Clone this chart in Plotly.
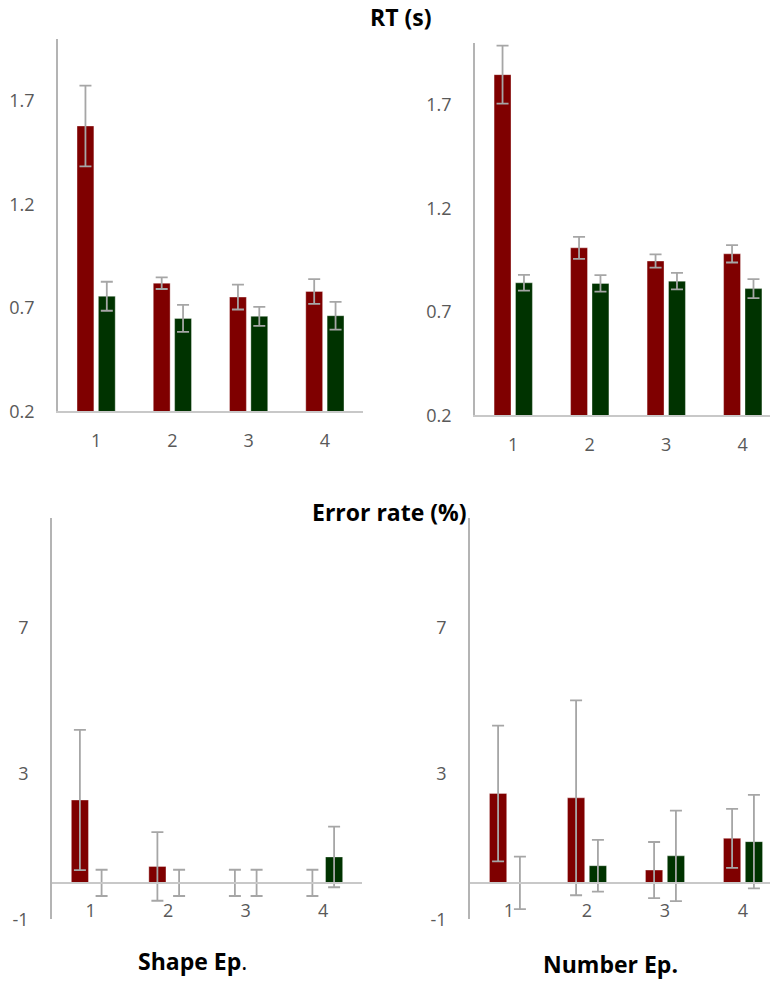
import plotly.graph_objects as go

# Blocks on the x axis
blocks = ["1", "2", "3", "4"]

# Reaction time (s), mean and error
shape_rt_a = [1.578, 0.819, 0.752, 0.779]
shape_rt_a_err = [0.195, 0.028, 0.060, 0.060]
shape_rt_b = [0.756, 0.649, 0.659, 0.662]
shape_rt_b_err = [0.070, 0.065, 0.046, 0.067]

number_rt_a = [1.845, 1.009, 0.945, 0.980]
number_rt_a_err = [0.140, 0.053, 0.032, 0.042]
number_rt_b = [0.840, 0.837, 0.848, 0.812]
number_rt_b_err = [0.038, 0.040, 0.040, 0.046]

# Error rate (%), mean and error
shape_er_a = [2.27, 0.45, 0.0, 0.0]
shape_er_a_err = [1.92, 0.94, 0.36, 0.36]
shape_er_b = [0.0, 0.0, 0.0, 0.71]
shape_er_b_err = [0.36, 0.36, 0.36, 0.83]

number_er_a = [2.45, 2.33, 0.35, 1.22]
number_er_a_err = [1.86, 2.67, 0.77, 0.81]
number_er_b = [0.0, 0.47, 0.74, 1.13]
number_er_b_err = [0.72, 0.71, 1.24, 1.28]

RT_TICKS = [0.2, 0.7, 1.2, 1.7]
ER_TICKS = [-1, 3, 7]

RED = "#7f0000"
GREEN = "#003300"
ERR = "#a6a6a6"
TICK_FONT = dict(family="Open Sans", size=18, color="#595959")
W, H = 770, 998


def bar(x_ax, y_ax, vals, errs, color, name):
    return go.Bar(
        x=blocks, y=vals, name=name, xaxis=x_ax, yaxis=y_ax,
        marker=dict(color=color, line=dict(color="rgba(255,255,255,0.35)", width=1)),
        error_y=dict(type="data", array=errs, visible=True,
                     color=ERR, thickness=1.8, width=6),
        showlegend=False,
    )


fig = go.Figure()
fig.add_trace(bar("x", "y", shape_rt_a, shape_rt_a_err, RED, "Group A"))
fig.add_trace(bar("x", "y", shape_rt_b, shape_rt_b_err, GREEN, "Group B"))
fig.add_trace(bar("x2", "y2", number_rt_a, number_rt_a_err, RED, "Group A"))
fig.add_trace(bar("x2", "y2", number_rt_b, number_rt_b_err, GREEN, "Group B"))
fig.add_trace(bar("x3", "y3", shape_er_a, shape_er_a_err, RED, "Group A"))
fig.add_trace(bar("x3", "y3", shape_er_b, shape_er_b_err, GREEN, "Group B"))
fig.add_trace(bar("x4", "y4", number_er_a, number_er_a_err, RED, "Group A"))
fig.add_trace(bar("x4", "y4", number_er_b, number_er_b_err, GREEN, "Group B"))


def px_x(a, b):
    return [a / W, min(b / W, 1.0)]


def px_y(top, bottom):
    return [1 - bottom / H, 1 - top / H]


def xaxis(dom, rng, anchor, **kw):
    return dict(domain=dom, range=rng, type="category", anchor=anchor,
                showline=True, linecolor="#c8c8c8", linewidth=2,
                showgrid=False, zeroline=False, ticks="",
                ticklabelstandoff=12, tickfont=TICK_FONT, fixedrange=True, **kw)


def yaxis(dom, rng, anchor, tickvals):
    return dict(domain=dom, range=rng, anchor=anchor,
                showline=True, linecolor="#b4b4b4", linewidth=1.5,
                showgrid=False, zeroline=False, ticks="",
                tickvals=tickvals, ticktext=[str(v) for v in tickvals],
                ticklabelstandoff=18, tickfont=TICK_FONT, fixedrange=True)


er_range = [-1, 10]
dom_er = px_y(523.7, 929.6)
# put the category axis of the error panels on the zero line
zero_pos = dom_er[0] + (0 - er_range[0]) / (er_range[1] - er_range[0]) * (dom_er[1] - dom_er[0])

fig.update_layout(
    width=W, height=H,
    margin=dict(l=0, r=0, t=0, b=0),
    paper_bgcolor="white", plot_bgcolor="white",
    barmode="group", bargap=0.44, bargroupgap=0.21,
    xaxis=xaxis(px_x(58, 363), [-0.5, 3.5], "y"),
    yaxis=yaxis(px_y(39, 416), [0.2, 2.0], "x", RT_TICKS),
    xaxis2=xaxis(px_x(475, 770), [-0.5, 3.356], "y2"),
    yaxis2=yaxis(px_y(43, 420), [0.2, 2.0], "x2", RT_TICKS),
    xaxis3=xaxis(px_x(52, 362), [-0.5, 3.5], "free", position=zero_pos),
    yaxis3=yaxis(dom_er, er_range, "x3", ER_TICKS),
    xaxis4=xaxis(px_x(470, 770), [-0.5, 3.346], "free", position=zero_pos),
    yaxis4=yaxis(dom_er, er_range, "x4", ER_TICKS),
    font=dict(family="Open Sans"),
)

TITLE_FONT = dict(family="Open Sans", size=23, color="#000000")
for text, cx, cy in [
    ("<b>RT (s)</b>", 401, 17),
    ("<b>Error rate (%)</b>", 389, 518),
    ("<b>Shape Ep</b>.", 192, 972),
    ("<b>Number Ep.</b>", 610, 975),
]:
    fig.add_annotation(text=text, x=cx / W, y=1 - cy / H, xref="paper", yref="paper",
                       xanchor="center", yanchor="middle", showarrow=False,
                       font=TITLE_FONT)

fig.write_html("out.html")
